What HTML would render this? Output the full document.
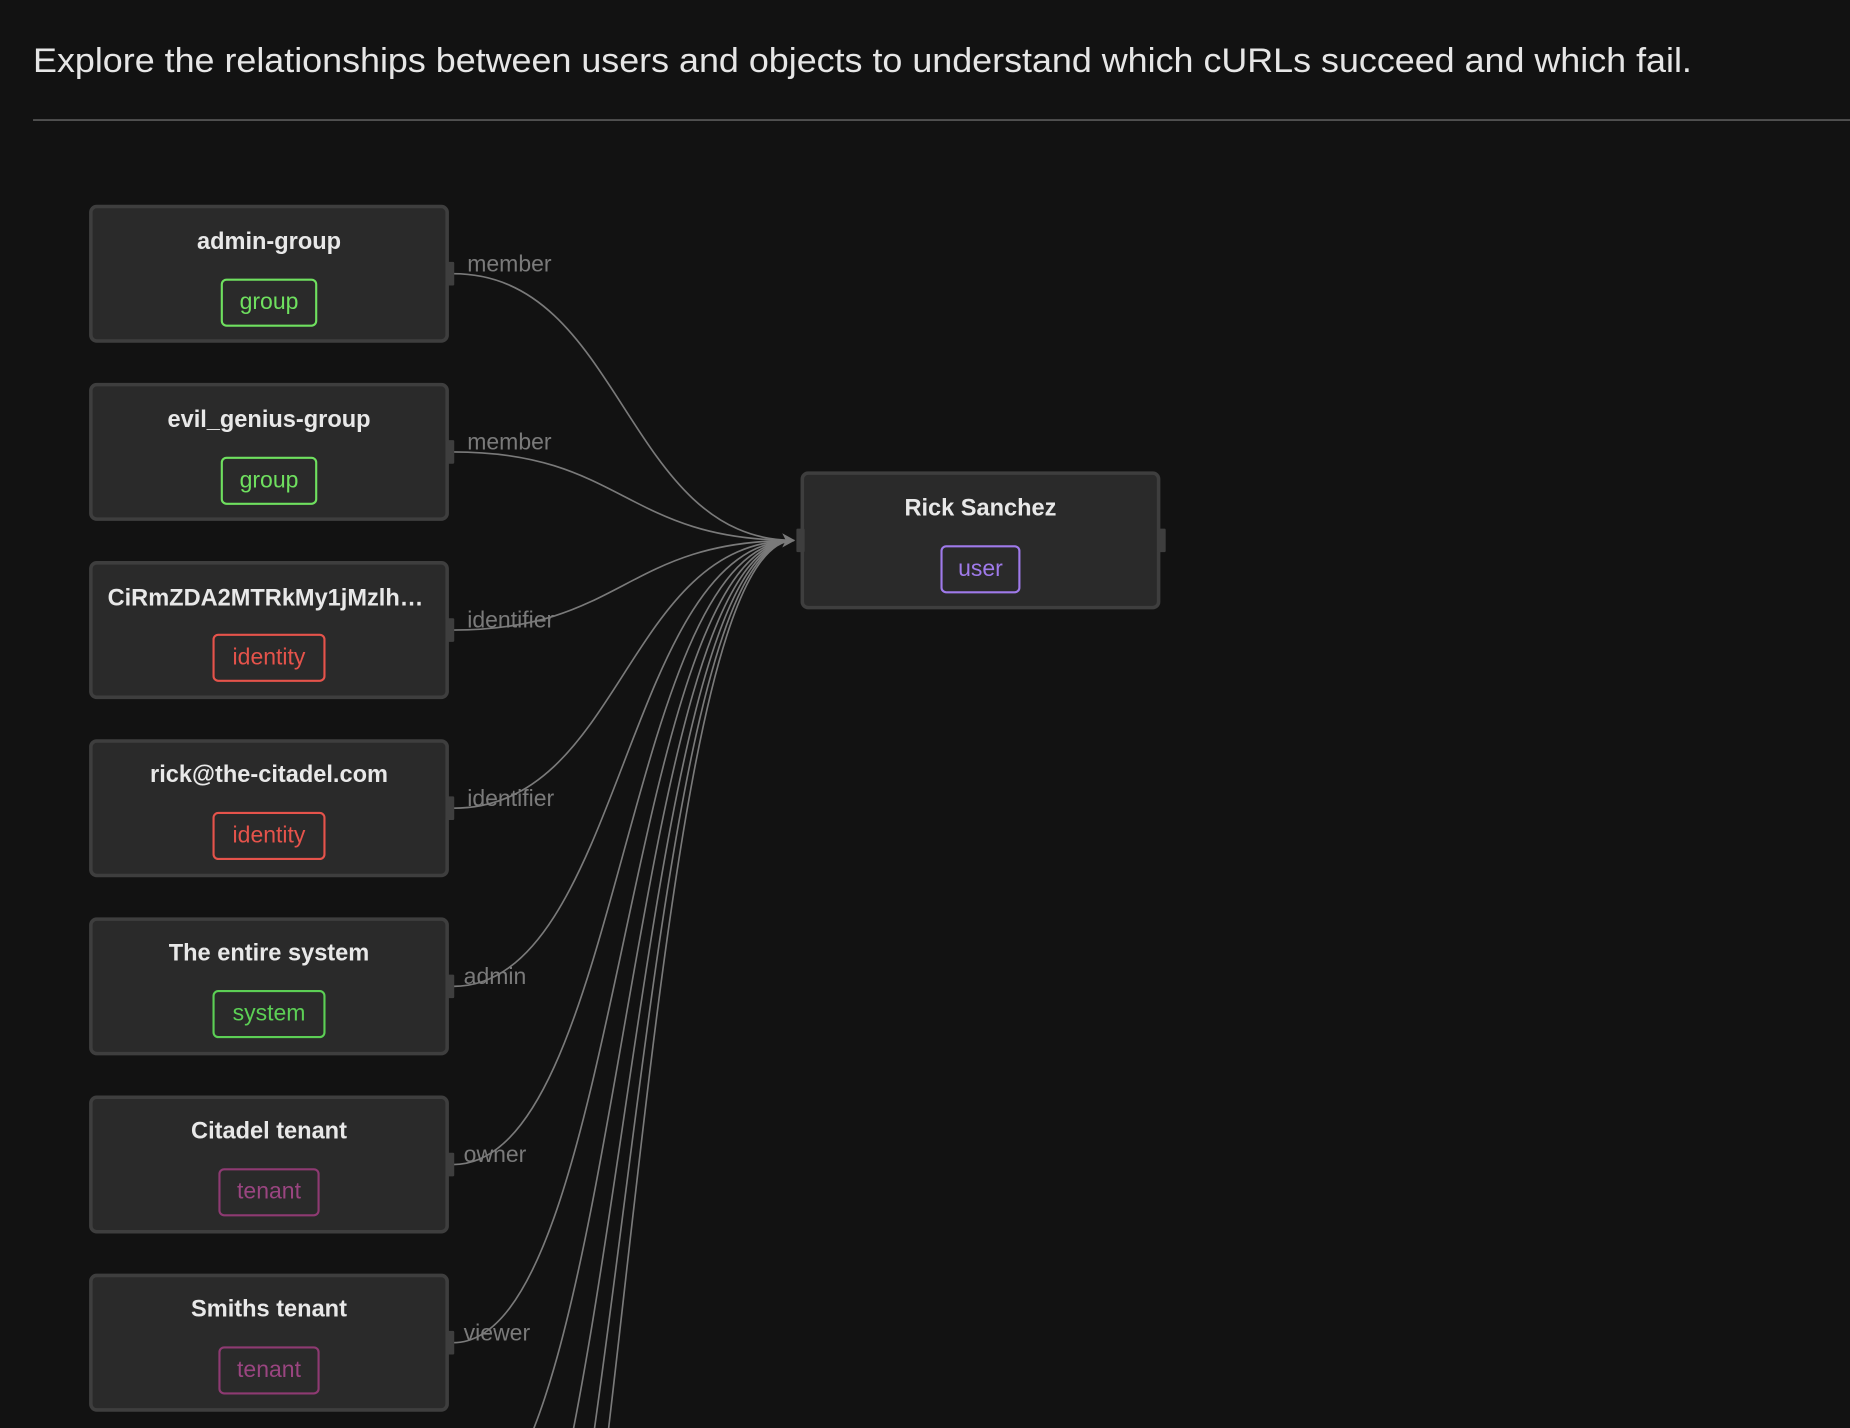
<!DOCTYPE html>
<html><head><meta charset="utf-8"><style>
html,body{margin:0;padding:0;background:#121212;width:1850px;height:1428px;overflow:hidden}
svg{display:block;overflow:hidden}
text{font-family:"Liberation Sans",sans-serif}
</style></head><body>
<svg width="1850" height="1428" viewBox="0 0 1568 1210.3" preserveAspectRatio="none">
<rect width="1568" height="1211" fill="#121212"/>
<text x="28" y="61" font-size="29" fill="#e6e6e6" textLength="1406" lengthAdjust="spacingAndGlyphs">Explore the relationships between users and objects to understand which cURLs succeed and which fail.</text>
<rect x="28" y="101" width="1540" height="1.5" fill="#555"/>
<g fill="none" stroke="#7a7a7a" stroke-width="1.4">
<path d="M384,232 C528,232 529,458 673,458"/>
<path d="M384,383 C528,383 529,458 673,458"/>
<path d="M384,534 C528,534 529,458 673,458"/>
<path d="M384,685 C528,685 529,458 673,458"/>
<path d="M384,836 C528,836 529,458 673,458"/>
<path d="M384,987 C528,987 529,458 673,458"/>
<path d="M384,1138 C528,1138 529,458 673,458"/>
<path d="M384,1289 C528,1289 529,458 673,458"/>
<path d="M384,1440 C528,1440 529,458 673,458"/>
<path d="M384,1591 C528,1591 529,458 673,458"/>
<path d="M384,1742 C528,1742 529,458 673,458"/>
</g>
<polygon points="663,452 674,458 663,464 666,458" fill="#7a7a7a"/>
<g font-size="19.5" fill="#7a7a7a">
<text x="396" y="230">member</text>
<text x="396" y="381">member</text>
<text x="396" y="532">identifier</text>
<text x="396" y="683">identifier</text>
<text x="393" y="834">admin</text>
<text x="393" y="985">owner</text>
<text x="393" y="1136">viewer</text>
</g>
<g fill="#2a2a2a" stroke="#3e3e3e" stroke-width="3">
<rect x="77" y="175" width="302" height="114" rx="5"/>
<rect x="77" y="326" width="302" height="114" rx="5"/>
<rect x="77" y="477" width="302" height="114" rx="5"/>
<rect x="77" y="628" width="302" height="114" rx="5"/>
<rect x="77" y="779" width="302" height="114" rx="5"/>
<rect x="77" y="930" width="302" height="114" rx="5"/>
<rect x="77" y="1081" width="302" height="114" rx="5"/>
<rect x="680" y="401" width="302" height="114" rx="5"/>
</g>
<g fill="#3e3e3e">
<rect x="378" y="222" width="7" height="20" rx="1"/>
<rect x="378" y="373" width="7" height="20" rx="1"/>
<rect x="378" y="524" width="7" height="20" rx="1"/>
<rect x="378" y="675" width="7" height="20" rx="1"/>
<rect x="378" y="826" width="7" height="20" rx="1"/>
<rect x="378" y="977" width="7" height="20" rx="1"/>
<rect x="378" y="1128" width="7" height="20" rx="1"/>
<rect x="675" y="448" width="7" height="20" rx="1"/>
<rect x="981" y="448" width="7" height="20" rx="1"/>
</g>
<g font-size="20" font-weight="bold" fill="#e8e8e8" text-anchor="middle">
<text x="228" y="211">admin-group</text>
<text x="228" y="362">evil_genius-group</text>
<text x="225" y="513">CiRmZDA2MTRkMy1jMzlh…</text>
<text x="228" y="663">rick@the-citadel.com</text>
<text x="228" y="814">The entire system</text>
<text x="228" y="965">Citadel tenant</text>
<text x="228" y="1116">Smiths tenant</text>
<text x="831" y="437">Rick Sanchez</text>
</g>
<g fill="none" stroke-width="1.8">
<rect x="188" y="237" width="80" height="39" rx="4" stroke="#6fe05f"/>
<rect x="188" y="388" width="80" height="39" rx="4" stroke="#6fe05f"/>
<rect x="181" y="538" width="94" height="39" rx="4" stroke="#e5534b"/>
<rect x="181" y="689" width="94" height="39" rx="4" stroke="#e5534b"/>
<rect x="181" y="840" width="94" height="39" rx="4" stroke="#5ccf55"/>
<rect x="186" y="991" width="84" height="39" rx="4" stroke="#8e3a72"/>
<rect x="186" y="1142" width="84" height="39" rx="4" stroke="#8e3a72"/>
<rect x="798" y="463" width="66" height="39" rx="4" stroke="#9f7aea"/>
</g>
<g font-size="19.5" text-anchor="middle">
<text x="228" y="262" fill="#6fe05f">group</text>
<text x="228" y="413" fill="#6fe05f">group</text>
<text x="228" y="563" fill="#e5534b">identity</text>
<text x="228" y="714" fill="#e5534b">identity</text>
<text x="228" y="865" fill="#5ccf55">system</text>
<text x="228" y="1016" fill="#9a4580">tenant</text>
<text x="228" y="1167" fill="#9a4580">tenant</text>
<text x="831" y="488" fill="#9f7aea">user</text>
</g>
</svg>
</body></html>
